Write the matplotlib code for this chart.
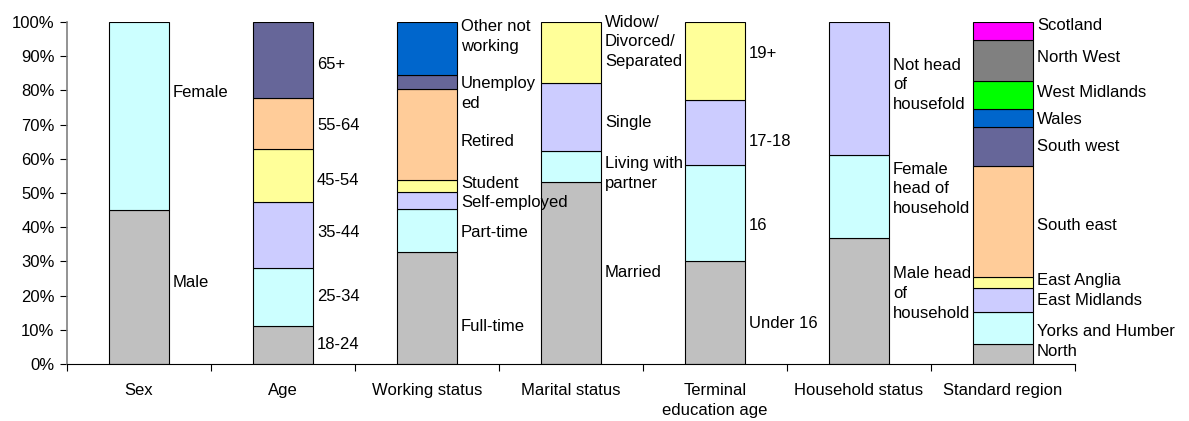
import matplotlib
matplotlib.use("Agg")
import matplotlib.pyplot as plt
import numpy as np

plt.rcParams["font.family"] = ["Liberation Sans", "DejaVu Sans"]

groups = ["Sex", "Age", "Working status", "Marital status",
          "Terminal\neducation age", "Household status", "Standard region"]

seg_labels = [
    ["Male", "Female"],
    ["18-24", "25-34", "35-44", "45-54", "55-64", "65+"],
    ["Full-time", "Part-time", "Self-employed", "Student", "Retired",
     "Unemploy\ned", "Other not\nworking"],
    ["Married", "Living with\npartner", "Single", "Widow/\nDivorced/\nSeparated"],
    ["Under 16", "16", "17-18", "19+"],
    ["Male head\nof\nhousehold", "Female\nhead of\nhousehold", "Not head\nof\nhousefold"],
    ["North", "Yorks and Humber", "East Midlands", "East Anglia", "South east",
     "South west", "Wales", "West Midlands", "North West", "Scotland"],
]

seg_values = [
    [45.0, 55.0],
    [11.2, 17.0, 19.3, 15.3, 15.1, 22.1],
    [32.7, 12.5, 5.0, 3.5, 26.7, 4.0, 15.6],
    [53.1, 9.2, 19.8, 17.9],
    [30.1, 28.1, 18.9, 22.9],
    [36.7, 24.3, 39.0],
    [5.8, 9.5, 6.8, 3.2, 32.7, 11.4, 5.1, 8.2, 11.9, 5.4],
]

# where each label sits (percent height)
label_y = [
    [23.9, 79.3],
    [5.6, 19.7, 38.5, 53.8, 69.6, 87.6],
    [11.1, 38.5, 47.2, 52.9, 65.2, 79.1, 95.7],
    [26.7, 55.7, 70.6, 94.2],
    [11.9, 40.6, 65.0, 90.8],
    [20.7, 51.2, 81.6],
    [3.8, 9.6, 18.7, 24.3, 40.4, 63.5, 71.6, 79.4, 89.7, 99.1],
]

seg_colors = [
    ["#C0C0C0", "#CCFFFF"],
    ["#C0C0C0", "#CCFFFF", "#CCCCFF", "#FFFF99", "#FFCC99", "#666699"],
    ["#C0C0C0", "#CCFFFF", "#CCCCFF", "#FFFF99", "#FFCC99", "#666699", "#0066CC"],
    ["#C0C0C0", "#CCFFFF", "#CCCCFF", "#FFFF99"],
    ["#C0C0C0", "#CCFFFF", "#CCCCFF", "#FFFF99"],
    ["#C0C0C0", "#CCFFFF", "#CCCCFF"],
    ["#C0C0C0", "#CCFFFF", "#CCCCFF", "#FFFF99", "#FFCC99", "#666699",
     "#0066CC", "#00FF00", "#808080", "#FF00FF"],
]

fig = plt.figure(figsize=(11.89, 4.21), dpi=100)
ax = fig.add_axes([67 / 1189, 57 / 421, 1008 / 1189, 342 / 421])

width = 0.415
for i, (vals, cols, labs, ly) in enumerate(zip(seg_values, seg_colors, seg_labels, label_y)):
    bottom = 0.0
    for v, c in zip(vals, cols):
        ax.bar(i, v, width=width, bottom=bottom, color=c, edgecolor="black", linewidth=0.8)
        bottom += v
    for lab, y in zip(labs, ly):
        ax.annotate(lab, xy=(i + width / 2, y), xytext=(3, 0), textcoords="offset points",
                    ha="left", va="center", fontsize=12, linespacing=1.4)

ax.set_xlim(-0.5, len(groups) - 0.5)
ax.set_ylim(0, 100)
ax.set_yticks(np.arange(0, 101, 10))
ax.set_yticklabels([f"{t}%" for t in range(0, 101, 10)], fontsize=12)
ax.set_xticks(np.arange(-0.5, len(groups), 1.0))
ax.set_xticklabels([])
ax.set_xticks(np.arange(len(groups)), minor=True)
ax.set_xticklabels(groups, minor=True, fontsize=12, linespacing=1.4)
ax.tick_params(axis="x", which="minor", length=0, pad=14)
ax.tick_params(axis="x", which="major", length=5, direction="out")
ax.tick_params(axis="y", length=5, direction="out", pad=4)

ax.spines["top"].set_visible(False)
ax.spines["right"].set_visible(False)
ax.spines["left"].set_color("#808080")
ax.spines["left"].set_linewidth(1.2)

fig.savefig("out.png", dpi=100)
plt.close(fig)
